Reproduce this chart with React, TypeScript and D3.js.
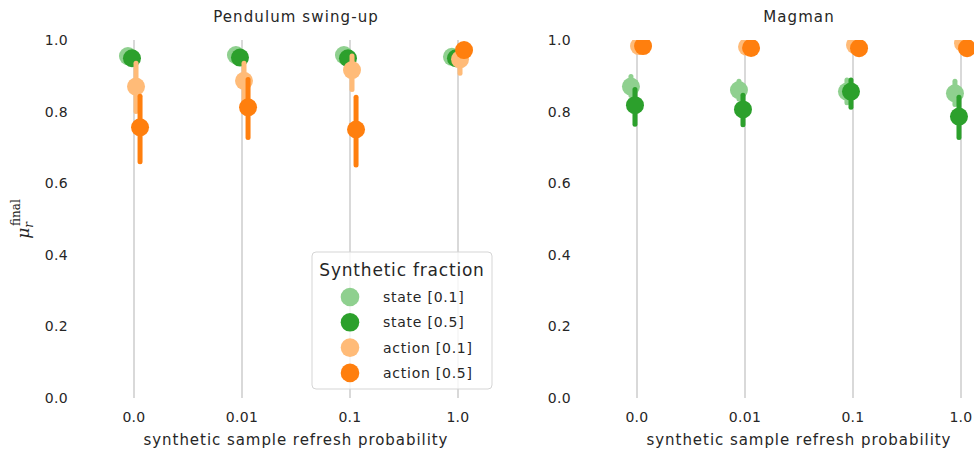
import React from 'react'
import { scaleLinear, scalePoint } from 'd3'

// categories and hue levels
const categories = ['0.0', '0.01', '0.1', '1.0']
const hues = ['state [0.1]', 'state [0.5]', 'action [0.1]', 'action [0.5]']
const colors = ['#8fd08f', '#2ca02c', '#ffbb78', '#ff7f0e']
const yTicks = [0, 0.2, 0.4, 0.6, 0.8, 1.0]

// Pendulum swing-up: mean, lower, upper per hue
const pendMean = [
  [0.955, 0.958, 0.958, 0.953],
  [0.949, 0.951, 0.949, 0.949],
  [0.870, 0.886, 0.916, 0.946],
  [0.756, 0.812, 0.750, 0.972],
]
const pendLow = [
  [0.945, 0.948, 0.948, 0.943],
  [0.940, 0.942, 0.940, 0.940],
  [0.800, 0.830, 0.862, 0.907],
  [0.660, 0.728, 0.651, 0.955],
]
const pendHigh = [
  [0.965, 0.965, 0.965, 0.962],
  [0.957, 0.958, 0.957, 0.957],
  [0.935, 0.935, 0.955, 0.975],
  [0.843, 0.890, 0.840, 0.985],
]

// Magman
const magMean = [
  [0.870, 0.860, 0.856, 0.851],
  [0.818, 0.806, 0.856, 0.786],
  [0.983, 0.981, 0.986, 0.991],
  [0.983, 0.978, 0.977, 0.977],
]
const magLow = [
  [0.845, 0.835, 0.825, 0.820],
  [0.765, 0.763, 0.812, 0.728],
  [0.975, 0.973, 0.978, 0.983],
  [0.975, 0.970, 0.969, 0.969],
]
const magHigh = [
  [0.898, 0.885, 0.888, 0.885],
  [0.862, 0.846, 0.888, 0.840],
  [0.990, 0.990, 0.995, 1.0],
  [0.991, 0.986, 0.985, 0.985],
]

const W = 974
const H = 453
const top = 40
const bottom = 398
const font = '"DejaVu Sans", sans-serif'
const textColor = '#262626'

const y = scaleLinear().domain([0, 1]).range([bottom, top])
const dodge = scalePoint<string>().domain(hues).range([-0.056, 0.056])

type PanelProps = {
  id: string
  left: number
  title: string
  mean: number[][]
  low: number[][]
  high: number[][]
}

const Panel = ({ id, left, title, mean, low, high }: PanelProps) => {
  const x = scaleLinear().domain([-0.5, 3.5]).range([left, left + 432])
  const [x0, x1] = x.range()
  return (
    <g>
      <defs>
        <clipPath id={id}>
          <rect x={x0} y={top} width={x1 - x0} height={bottom - top} />
        </clipPath>
      </defs>
      {categories.map((c, i) => (
        <line key={c} x1={x(i)} x2={x(i)} y1={top} y2={bottom} stroke="#cccccc" strokeWidth={1.5} />
      ))}
      {yTicks.map(t => (
        <text key={t} x={x0 - 12} y={y(t)} dy="0.35em" textAnchor="end" fontSize={14} letterSpacing={0.3} fill={textColor}>
          {t.toFixed(1)}
        </text>
      ))}
      {categories.map((c, i) => (
        <text key={c} x={x(i)} y={422} textAnchor="middle" fontSize={14} letterSpacing={0.3} fill={textColor}>
          {c}
        </text>
      ))}
      <text x={(x0 + x1) / 2} y={445} textAnchor="middle" fontSize={15} letterSpacing={0.95} fill={textColor}>
        synthetic sample refresh probability
      </text>
      <text x={(x0 + x1) / 2} y={22} textAnchor="middle" fontSize={15} letterSpacing={1.1} fill={textColor}>
        {title}
      </text>
      <g clipPath={`url(#${id})`}>
        {hues.map((h, k) =>
          categories.map((c, i) => {
            const cx = x(i + (dodge(h) as number))
            return (
              <g key={h + c}>
                <line x1={cx} x2={cx} y1={y(low[k][i])} y2={y(high[k][i])} stroke={colors[k]} strokeWidth={5} strokeLinecap="round" />
                <circle cx={cx} cy={y(mean[k][i])} r={9} fill={colors[k]} />
              </g>
            )
          })
        )}
      </g>
    </g>
  )
}

const App = () => {
  return (
    <svg width={W} height={H} style={{ position: 'fixed', left: 0, top: 0, fontFamily: font }}>
      <rect width={W} height={H} fill="white" />
      <Panel id="clip-pend" left={80} title="Pendulum swing-up" mean={pendMean} low={pendLow} high={pendHigh} />
      <Panel id="clip-mag" left={583} title="Magman" mean={magMean} low={magLow} high={magHigh} />

      {/* y label */}
      <text transform="translate(29,219) rotate(-90)" textAnchor="middle" fontFamily="'DejaVu Serif', serif" fill={textColor} fontSize={17}>
        <tspan fontStyle="italic">μ</tspan>
        <tspan fontStyle="italic" fontSize={12} dy={4}>r</tspan>
        <tspan fontSize={12} dx={-4} dy={-13}>final</tspan>
      </text>

      {/* legend */}
      <g>
        <rect x={312} y={252} width={180} height={137} rx={4} fill="white" fillOpacity={0.8} stroke="#d5d5d5" />
        <text x={402} y={276} textAnchor="middle" fontSize={17} letterSpacing={0.8} fill={textColor}>Synthetic fraction</text>
        {hues.map((h, k) => (
          <g key={h} transform={`translate(0,${297 + k * 25.3})`}>
            <circle cx={350} cy={0} r={9.3} fill={colors[k]} />
            <text x={383} y={0} dy="0.35em" fontSize={14} letterSpacing={0.75} fill={textColor}>{h}</text>
          </g>
        ))}
      </g>
    </svg>
  )
}

export default App
